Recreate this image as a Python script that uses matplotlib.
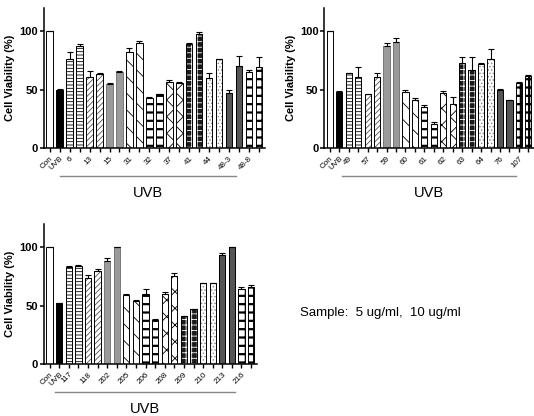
import matplotlib
matplotlib.use('Agg')
import matplotlib.pyplot as plt
import numpy as np

plt.rcParams['font.family'] = ['Liberation Sans', 'DejaVu Sans']
plt.rcParams['hatch.linewidth'] = 0.6

# ---- data (Con, UVB, then 5 / 10 ug/ml for each sample) ----
samples1 = ['6', '13', '15', '31', '32', '37', '41', '44', '48-3', '48-8']
vals1 = [100, 50, 76, 87, 61, 63, 55, 65, 82, 90, 43, 46, 57, 56, 89, 98, 60, 76, 47, 70, 65, 69]
errs1 = [0, 1, 6, 2, 5, 1, 1, 1, 4, 2, 0.5, 0.5, 1, 0.5, 1, 1, 4, 0.5, 3, 9, 2, 9]

samples2 = ['49', '57', '59', '60', '61', '62', '63', '64', '76', '107']
vals2 = [100, 48, 64, 61, 46, 61, 87, 91, 48, 41, 35, 21, 47, 38, 73, 67, 72, 76, 50, 41, 56, 62]
errs2 = [0, 0.5, 0.5, 8, 0.5, 3, 3, 3, 2, 2, 2, 1, 2, 6, 5, 11, 0.5, 9, 1, 0.5, 1, 0.5]

samples3 = ['117', '118', '202', '205', '206', '208', '209', '210', '213', '216']
vals3 = [100, 52, 83, 84, 74, 80, 88, 100, 59, 54, 60, 38, 60, 75, 41, 47, 69, 69, 93, 100, 64, 66]
errs3 = [0, 0.5, 0.5, 0.5, 2, 1, 3, 0.5, 0.5, 1, 4, 0.5, 2, 3, 0.5, 0.5, 0.5, 0.5, 2, 0.5, 2, 2]

# pattern per sample pair: (facecolor, hatch, hatch colour)
styles = [
    ('white', '-----', 'black'),
    ('white', '//////', '#555555'),
    ('#9a9a9a', '', 'black'),
    ('white', '\\\\', 'black'),
    ('white', '--', 'black'),
    ('white', 'xx', 'black'),
    ('#1a1a1a', '+++', 'white'),
    ('white', '.....', '#888888'),
    ('#555555', '', 'black'),
    ('white', '++', 'black'),
]


def panel(ax, samples, vals, errs, line_span):
    x = np.arange(len(vals))
    w = 0.66
    err_lo = np.zeros(len(errs))
    # Con and UVB
    ax.bar(x[0], vals[0], w, color='white', edgecolor='black', linewidth=0.7)
    ax.bar(x[1], vals[1], w, color='black', edgecolor='black', linewidth=0.7)
    for i in range(len(samples)):
        fc, hatch, hc = styles[i]
        idx = x[2 + 2 * i: 4 + 2 * i]
        v = vals[2 + 2 * i: 4 + 2 * i]
        b = ax.bar(idx, v, w, color=fc, edgecolor=hc, hatch=hatch, linewidth=0)
        if hatch in ('--', '++'):
            for p in b:
                if hasattr(p, 'set_hatch_linewidth'):
                    p.set_hatch_linewidth(1.6)
        ax.bar(idx, v, w, fill=False, edgecolor='black' if fc != '#9a9a9a' else '#777777', linewidth=0.7)
    ax.errorbar(x, vals, yerr=[err_lo, errs], fmt='none', ecolor='black',
                elinewidth=0.8, capsize=2, capthick=0.8)

    ax.set_xlim(-0.6, 21.6)
    ax.set_ylim(0, 120)
    ax.set_yticks([0, 50, 100])
    for s in ['top', 'right']:
        ax.spines[s].set_visible(False)
    ax.spines['left'].set_linewidth(1.1)
    ax.spines['bottom'].set_linewidth(1.1)
    ax.tick_params(axis='y', labelsize=8, width=1.1, length=3, pad=1)
    for t in ax.get_yticklabels():
        t.set_fontweight('bold')
    labels = ['Con', 'UVB']
    for s in samples:
        labels += [s, '']
    ax.set_xticks(x)
    ax.set_xticklabels(labels, rotation=45, ha='right', rotation_mode='anchor', fontsize=5.8)
    ax.tick_params(axis='x', width=1.0, length=3, pad=2)
    ax.set_ylabel('Cell Viability (%)', fontsize=8, fontweight='bold', labelpad=3)

    tr = ax.get_xaxis_transform()
    ax.plot(line_span, [-0.2, -0.2], color='#888888', linewidth=1.0,
            transform=tr, clip_on=False)
    ax.text((line_span[0] + line_span[1]) / 2, -0.32, 'UVB', transform=tr,
            ha='center', va='center', fontsize=10.5)


fig = plt.figure(figsize=(5.34, 4.16), dpi=100)
ax1 = fig.add_axes([0.082, 0.644, 0.414, 0.337])
ax2 = fig.add_axes([0.607, 0.644, 0.393, 0.337])
ax3 = fig.add_axes([0.082, 0.125, 0.399, 0.337])

panel(ax1, samples1, vals1, errs1, [1.0, 18.7])
panel(ax2, samples2, vals2, errs2, [1.3, 19.7])
panel(ax3, samples3, vals3, errs3, [0.6, 19.3])

fig.text(0.562, 0.247, 'Sample:  5 ug/ml,  10 ug/ml', fontsize=9.5, va='center')

fig.savefig('out.png', dpi=100)
